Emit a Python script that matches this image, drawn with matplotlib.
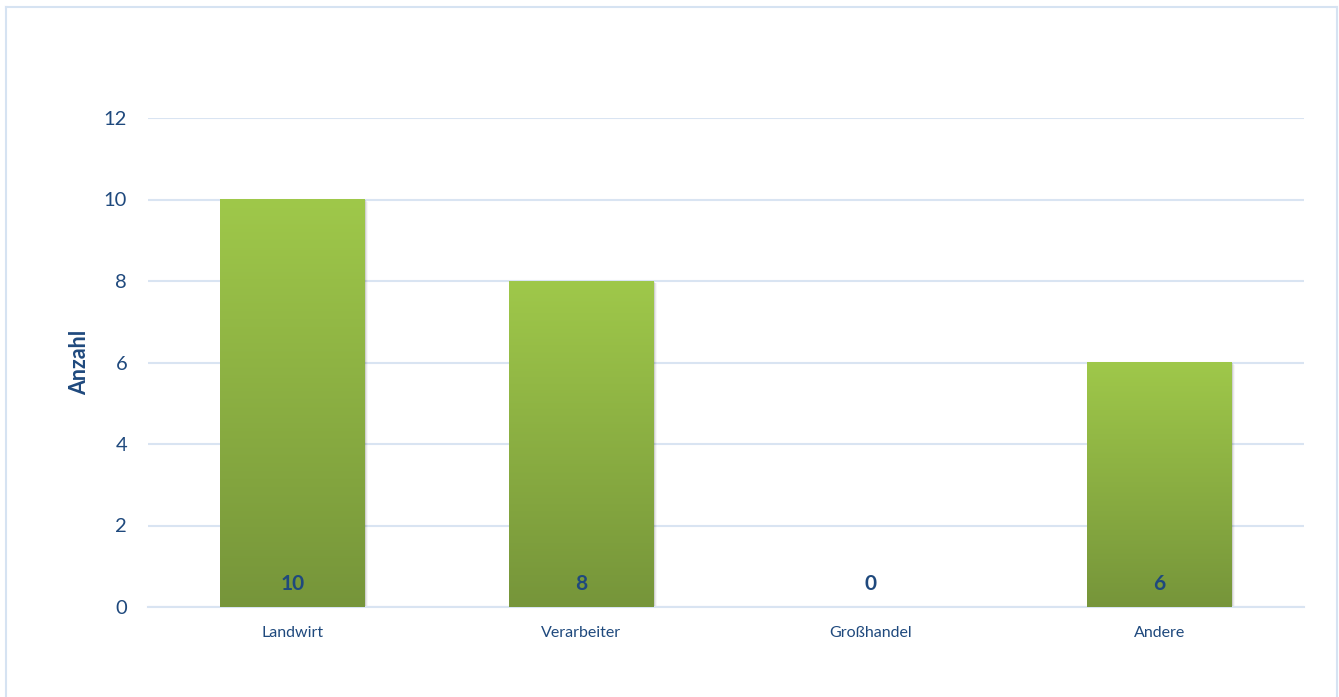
import matplotlib.pyplot as plt
import matplotlib.colors as mcolors
from matplotlib.lines import Line2D
import numpy as np

categories = ["Landwirt", "Verarbeiter", "Großhandel", "Andere"]
values = [10, 8, 0, 6]
yticks = [0, 2, 4, 6, 8, 10, 12]

text_col = "#1F497D"
grid_col = "#D9E4F2"
top_col = "#9FC84A"
bot_col = "#76953A"

plt.rcParams['font.family'] = ['Lato', 'DejaVu Sans']

fig = plt.figure(figsize=(13.39, 6.97), dpi=100)
ax = fig.add_axes([148 / 1339, 1 - 607 / 697, 1156 / 1339, 489 / 697])

x = np.arange(len(categories))
width = 0.5
bars = ax.bar(x, values, width=width, color="none", zorder=3)

# vertical gradient inside each bar
cmap = mcolors.LinearSegmentedColormap.from_list("g", [bot_col, top_col])
grad = np.linspace(0, 1, 256).reshape(-1, 1)
for b in bars:
    h = b.get_height()
    if h <= 0:
        continue
    x0 = b.get_x()
    # soft shadow
    for k, a in enumerate([0.10, 0.06, 0.03]):
        ax.add_patch(plt.Rectangle((x0 + 0.004 * (k + 1), -0.02 * (k + 1)), width, h,
                                   color="black", alpha=a, lw=0, zorder=2))
    ax.imshow(grad, extent=(x0, x0 + width, 0, h), origin="lower", cmap=cmap,
              aspect="auto", zorder=3)

for xi, v in zip(x, values):
    ax.text(xi, 0.57, str(v), ha="center", va="center", fontsize=15,
            fontweight="bold", color=text_col, zorder=4)

ax.set_xlim(-0.5, 3.5)
ax.set_ylim(0, 12)
ax.set_yticks(yticks)
ax.set_xticks(x)
ax.set_xticklabels(categories)
ax.tick_params(axis="y", length=0, pad=15, labelsize=14.5, labelcolor=text_col)
ax.tick_params(axis="x", length=0, pad=14, labelsize=11.5, labelcolor=text_col)
ax.yaxis.grid(True, color=grid_col, lw=1.5, zorder=0)
ax.set_axisbelow(True)
for s in ["top", "right", "left"]:
    ax.spines[s].set_visible(False)
ax.spines["bottom"].set_color(grid_col)
ax.spines["bottom"].set_linewidth(1.5)
ax.set_ylabel("Anzahl", fontsize=15.5, fontweight="bold", color=text_col, labelpad=10)

# outer chart border
bc = "#D6E3F2"
fig.add_artist(Line2D([6 / 1339, 6 / 1339], [0, 1 - 7 / 697], color=bc, lw=1.5))
fig.add_artist(Line2D([6 / 1339, 1337 / 1339], [1 - 7 / 697, 1 - 7 / 697], color=bc, lw=1.5))
fig.add_artist(Line2D([1337 / 1339, 1337 / 1339], [0, 1 - 7 / 697], color=bc, lw=1.5))

fig.savefig("out.png", dpi=100)
